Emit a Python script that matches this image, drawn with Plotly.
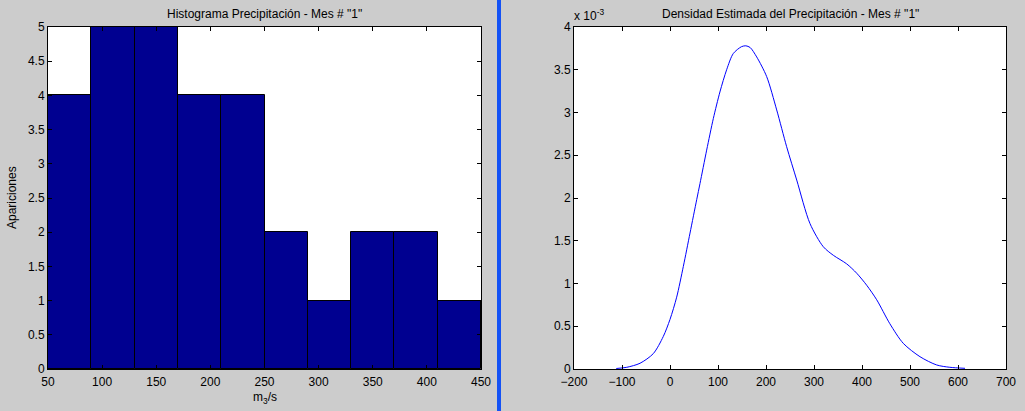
import plotly.graph_objects as go

W, H = 1025, 411

# Histogram data
bin_left = [50, 90, 130, 170, 210, 250, 290, 330, 370, 410]
bin_width = 40
counts = [4, 5, 5, 4, 4, 2, 1, 2, 2, 1]

# Density estimate (values in units of 1e-3)
dens_x = [-112, -90, -62.5, -34.8, -14, 0, 13.9, 27.8, 41.7, 55.6, 62.5, 76.4, 90.3, 104, 118,
          131.9, 149, 158, 167, 180.6, 201.4, 222.3, 243, 264, 291.7, 319.4, 340.3, 368, 389,
          409.7, 430.6, 458, 486, 520.8, 555.6, 583, 614.6]
dens_y = [0.006, 0.02, 0.067, 0.18, 0.38, 0.58, 0.84, 1.20, 1.59, 1.98, 2.17, 2.56, 2.93, 3.24, 3.50,
          3.69, 3.77, 3.78, 3.76, 3.65, 3.42, 3.03, 2.60, 2.21, 1.70, 1.43, 1.33, 1.23, 1.12,
          0.98, 0.81, 0.53, 0.30, 0.144, 0.047, 0.02, 0.008]

left_xticks = [50, 100, 150, 200, 250, 300, 350, 400, 450]
right_xticks = [-200, -100, 0, 100, 200, 300, 400, 500, 600, 700]

def px(x):
    return x / W

def py(y):
    return (H - y) / H

FONT = "Liberation Sans, Arial, sans-serif"
FS = 12

fig = go.Figure()
fig.add_trace(go.Bar(
    x=[b + bin_width / 2 for b in bin_left], y=counts, width=bin_width,
    marker=dict(color="#000090", line=dict(color="black", width=1)),
    xaxis="x", yaxis="y", showlegend=False,
))
fig.add_trace(go.Scatter(
    x=dens_x, y=dens_y, mode="lines", line=dict(color="#0000ff", width=1, shape="spline", smoothing=0.8),
    xaxis="x2", yaxis="y2", showlegend=False,
))

axis_common = dict(
    showgrid=False, zeroline=False, showline=True, linecolor="black", linewidth=1,
    mirror="ticks", ticks="inside", ticklen=4, tickcolor="black", automargin=False,
    tickfont=dict(family=FONT, size=FS, color="black"),
)

fig.update_layout(
    width=W, height=H,
    margin=dict(l=0, r=0, t=0, b=0, pad=0, autoexpand=False),
    paper_bgcolor="#cccccc", plot_bgcolor="white",
    bargap=0,
    font=dict(family=FONT, size=FS, color="black"),
    xaxis=dict(domain=[px(48), px(481)], range=[50, 450], tickvals=left_xticks,
               anchor="y", ticklabelstandoff=2, **axis_common),
    yaxis=dict(domain=[py(369), py(27)], range=[0, 5], dtick=0.5,
               anchor="x", **axis_common),
    xaxis2=dict(domain=[px(574), px(1006)], range=[-200, 700], tickvals=right_xticks,
                anchor="y2", ticklabelstandoff=2, **axis_common),
    yaxis2=dict(domain=[py(369), py(27)], range=[0, 4], dtick=0.5,
                anchor="x2", **axis_common),
    shapes=[dict(type="rect", xref="paper", yref="paper", x0=px(497), x1=px(501), y0=0, y1=1,
                 fillcolor="#1452f5", line=dict(width=0), layer="above")],
    annotations=[
        dict(text="Histograma Precipitación - Mes # \"1\"", xref="paper", yref="paper",
             x=px(264.5), y=py(14), showarrow=False, xanchor="center", yanchor="middle",
             font=dict(size=FS)),
        dict(text="Densidad Estimada del Precipitación - Mes # \"1\"", xref="paper", yref="paper",
             x=px(790), y=py(14), showarrow=False, xanchor="center", yanchor="middle",
             font=dict(size=FS)),
        dict(text="m<sub>3</sub>/s", xref="paper", yref="paper",
             x=px(264.5), y=py(398), showarrow=False, xanchor="center", yanchor="middle",
             font=dict(size=FS)),
        dict(text="Apariciones", xref="paper", yref="paper", textangle=-90,
             x=px(12), y=py(198), showarrow=False, xanchor="center", yanchor="middle",
             font=dict(size=FS)),
        dict(text="x 10<sup>-3</sup>", xref="paper", yref="paper",
             x=px(572), y=py(15), showarrow=False, xanchor="left", yanchor="middle",
             font=dict(size=FS)),
    ],
)

fig.write_html("out.html")
